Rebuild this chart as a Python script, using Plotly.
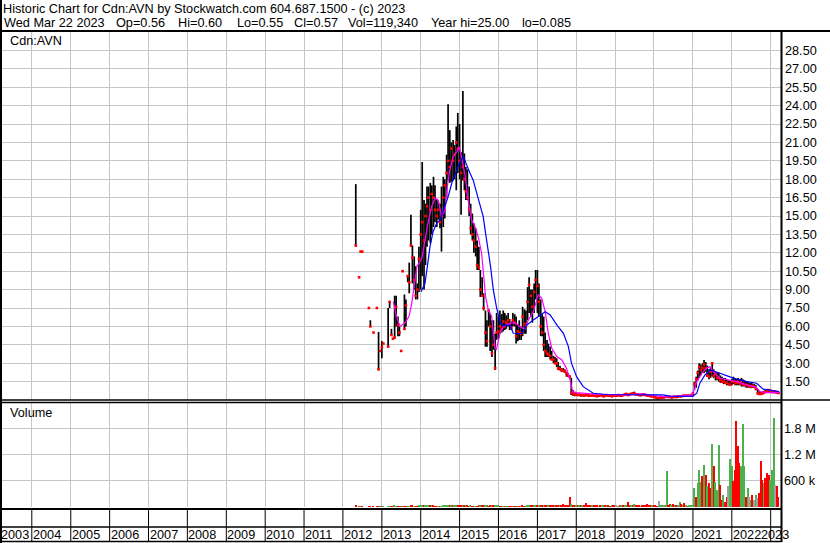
import pandas as pd
import plotly.graph_objects as go

# ---------------- data (semi-monthly bars, May 2012 .. Mar 2023) ----------------
high_2012 = [17.6, None, 10.0, 12.1, 12.1, None, None, None, 7.5, 6.5, None, 5.5, None, 7.5, 5.55, 4.0]
low_2012 = [12.5, None, 10.0, 12.1, 12.1, None, None, None, 7.5, 6.0, None, 5.5, None, 7.5, 2.45, 4.0]
close_2012 = [12.6, None, 10.0, 12.1, 12.1, None, None, None, 7.5, 6.0, None, 5.5, None, 7.5, 2.5, 4.0]

high_2013 = [4.8, 4.6, None, None, 7.5, 8.0, 5.8, 5.0, 8.5, 8.5, 6.8, 6.0, 4.0, 10.5, 8.6, 8.2, 10.1, 11.2, 15.1, 12.6, 11.7, 10.9, 9.5, 12.5]
low_2013 = [3.4, 4.6, None, None, 4.3, 7.5, 5.3, 5.0, 5.0, 6.0, 5.2, 5.2, 4.0, 10.5, 5.7, 6.0, 9.6, 8.7, 12.5, 9.5, 9.0, 8.2, 8.2, 8.8]
close_2013 = [4.3, 4.6, None, None, 4.35, 8.0, 5.3, 5.0, 5.1, 7.6, 6.1, 5.5, 4.0, 10.5, 5.8, 7.7, 10.1, 9.6, 12.6, 11.6, 9.8, 8.5, 9.0, 11.5]

high_2014 = [15.5, 19.4, 16.3, 16.0, 17.4, 17.4, 17.7, 17.5, 18.2, 17.5, 16.4, 16.2, 16.0, 17.4, 18.2, 18.0, 20.0, 24.1, 22.0, 21.0, 21.2, 20.8, 22.3, 23.4]
low_2014 = [9.0, 10.1, 9.0, 11.0, 12.5, 13.0, 12.8, 13.5, 14.1, 14.5, 14.1, 14.7, 14.0, 12.1, 14.1, 14.8, 16.5, 17.9, 17.7, 17.8, 17.9, 18.0, 17.1, 18.5]
close_2014 = [13.5, 14.5, 13.0, 15.0, 15.8, 16.5, 15.5, 16.8, 16.5, 15.5, 15.0, 15.5, 14.5, 15.0, 16.5, 17.5, 18.5, 19.5, 19.0, 20.5, 19.5, 20.0, 21.0, 20.5]

high_2015 = [22.5, 20.2, 25.2, 20.1, 19.0, 18.8, 17.4, 16.0, 15.2, 14.4, 14.0, 13.0, 12.5, 10.6, 10.0, 8.7, 7.3, 6.5, 7.3, 7.1, 6.5, 6.5, 5.4, 7.1]
low_2015 = [18.0, 15.1, 17.9, 17.1, 16.3, 16.3, 15.0, 13.5, 13.0, 12.0, 11.7, 10.6, 10.6, 8.4, 8.4, 7.3, 4.35, 4.35, 6.0, 4.0, 3.5, 4.1, 2.45, 4.9]
close_2015 = [19.5, 18.5, 19.0, 18.0, 17.0, 16.5, 15.5, 14.0, 13.5, 13.0, 12.5, 11.0, 10.8, 9.0, 8.5, 7.5, 5.5, 4.8, 7.3, 6.0, 3.8, 4.5, 2.6, 5.5]

high_2016 = [6.8, 7.3, 7.0, 7.3, 7.1, 6.9, 7.1, 6.6, 6.4, 7.1, 7.0, 6.8, 6.2, 6.5, 6.0, 7.6, 7.4, 7.3, 9.2, 10.0, 9.0, 9.0, 9.5, 10.6]
low_2016 = [5.0, 5.4, 5.5, 5.6, 5.7, 5.8, 6.0, 5.7, 5.7, 6.0, 6.0, 4.6, 4.8, 4.9, 4.9, 5.2, 5.4, 5.4, 6.5, 7.1, 6.8, 6.3, 7.1, 8.2]
close_2016 = [5.6, 6.0, 5.8, 6.4, 6.0, 6.3, 6.5, 6.2, 5.9, 6.5, 6.3, 5.2, 5.6, 5.5, 5.4, 6.8, 6.2, 6.0, 8.0, 9.4, 8.5, 7.6, 8.8, 9.8]

high_2017 = [10.6, 9.5, 8.2, 7.0, 6.8, 5.5, 4.9, 4.6, 4.35, 4.0, 3.6, 3.5, 3.4, 3.1, 2.8, 2.6, 2.6, 2.5, 2.3, 2.2, 2.0, 1.8, 0.82, 0.6]
low_2017 = [7.1, 6.8, 5.2, 5.2, 4.0, 3.5, 3.5, 3.5, 3.3, 3.3, 3.0, 3.0, 2.7, 2.45, 2.45, 2.3, 2.3, 2.2, 1.9, 1.9, 1.8, 0.4, 0.35, 0.3]
close_2017 = [9.3, 8.0, 6.0, 5.5, 4.5, 4.0, 3.8, 3.7, 3.6, 3.3, 3.3, 3.0, 3.0, 2.6, 2.5, 2.45, 2.4, 2.3, 2.2, 2.0, 1.9, 0.6, 0.5, 0.45]

high_2018 = [0.55, 0.5, 0.5, 0.45, 0.5, 0.45, 0.5, 0.45, 0.45, 0.4, 0.45, 0.4, 0.45, 0.4, 0.4, 0.45, 0.4, 0.4, 0.4, 0.45, 0.4, 0.4, 0.4, 0.4]
low_2018 = [0.35, 0.35, 0.35, 0.3, 0.35, 0.3, 0.3, 0.3, 0.3, 0.3, 0.3, 0.3, 0.3, 0.25, 0.3, 0.3, 0.3, 0.25, 0.3, 0.3, 0.3, 0.3, 0.25, 0.3]
close_2018 = [0.45, 0.4, 0.45, 0.35, 0.4, 0.35, 0.45, 0.4, 0.35, 0.35, 0.4, 0.35, 0.35, 0.3, 0.35, 0.4, 0.35, 0.3, 0.35, 0.4, 0.35, 0.35, 0.3, 0.35]

high_2019 = [0.4, 0.4, 0.45, 0.45, 0.4, 0.45, 0.5, 0.55, 0.5, 0.5, 0.55, 0.6, 0.68, 0.55, 0.5, 0.5, 0.45, 0.5, 0.5, 0.45, 0.45, 0.4, 0.4, 0.35]
low_2019 = [0.3, 0.3, 0.3, 0.3, 0.3, 0.3, 0.35, 0.35, 0.35, 0.35, 0.4, 0.4, 0.4, 0.4, 0.35, 0.35, 0.3, 0.35, 0.35, 0.35, 0.3, 0.3, 0.25, 0.25]
close_2019 = [0.35, 0.35, 0.4, 0.35, 0.35, 0.4, 0.45, 0.5, 0.4, 0.45, 0.5, 0.55, 0.5, 0.45, 0.45, 0.4, 0.4, 0.45, 0.45, 0.4, 0.35, 0.35, 0.3, 0.3]

high_2020 = [0.33, 0.3, 0.25, 0.25, 0.25, 0.25, 0.3, 0.3, 0.35, 0.3, 0.3, 0.3, 0.3, 0.3, 0.3, 0.35, 0.35, 0.4, 0.4, 0.4, 0.4, 0.4, 0.4, 0.45]
low_2020 = [0.2, 0.15, 0.1, 0.085, 0.1, 0.15, 0.15, 0.2, 0.2, 0.2, 0.2, 0.15, 0.2, 0.2, 0.2, 0.2, 0.25, 0.25, 0.3, 0.3, 0.3, 0.3, 0.27, 0.3]
close_2020 = [0.25, 0.2, 0.15, 0.15, 0.2, 0.2, 0.2, 0.25, 0.3, 0.25, 0.25, 0.2, 0.25, 0.25, 0.25, 0.3, 0.3, 0.3, 0.35, 0.35, 0.35, 0.35, 0.35, 0.4]

high_2021 = [0.6, 1.5, 1.9, 2.4, 3.0, 2.9, 3.0, 3.26, 3.1, 2.8, 2.5, 2.6, 3.1, 2.5, 2.3, 2.2, 2.2, 2.0, 1.9, 1.8, 1.8, 1.7, 1.6, 1.6]
low_2021 = [0.35, 0.8, 1.0, 1.6, 1.8, 2.0, 2.2, 2.2, 2.3, 1.9, 1.7, 1.8, 1.9, 1.8, 1.6, 1.6, 1.5, 1.4, 1.4, 1.3, 1.3, 1.2, 1.2, 1.2]
close_2021 = [0.55, 1.3, 1.7, 2.2, 2.7, 2.45, 2.6, 2.9, 2.6, 2.0, 1.9, 2.3, 3.0, 2.0, 2.2, 1.8, 1.8, 1.6, 1.5, 1.5, 1.4, 1.4, 1.3, 1.25]

high_2022 = [1.7, 1.9, 1.8, 1.7, 1.8, 1.7, 1.8, 1.7, 1.6, 1.5, 1.5, 1.4, 1.4, 1.35, 1.3, 1.2, 0.9, 0.7, 0.65, 0.7, 0.75, 0.82, 0.82, 0.82]
low_2022 = [1.2, 1.3, 1.2, 1.2, 1.2, 1.2, 1.1, 1.1, 1.1, 1.0, 1.0, 1.0, 0.96, 1.0, 0.96, 0.8, 0.45, 0.4, 0.4, 0.45, 0.5, 0.6, 0.68, 0.68]
close_2022 = [1.5, 1.5, 1.35, 1.4, 1.5, 1.36, 1.5, 1.25, 1.23, 1.2, 1.23, 1.1, 1.1, 1.15, 1.09, 0.9, 0.55, 0.5, 0.5, 0.55, 0.6, 0.75, 0.8, 0.8]

high_2023 = [0.82, 0.8, 0.8, 0.75, 0.7, 0.65]
low_2023 = [0.68, 0.6, 0.55, 0.55, 0.5, 0.5]
close_2023 = [0.75, 0.65, 0.7, 0.65, 0.6, 0.57]

# volume in thousands of shares
vol_2012 = [25, 0, 8, 10, 8, 0, 0, 0, 8, 10, 0, 8, 0, 8, 20, 8]
vol_2013 = [15, 10, 0, 0, 20, 12, 10, 8, 25, 20, 15, 10, 8, 10, 20, 15, 12, 18, 30, 25, 20, 18, 15, 25]
vol_2014 = [40, 35, 30, 30, 25, 30, 25, 30, 25, 20, 20, 18, 20, 22, 25, 30, 30, 40, 35, 30, 30, 28, 35, 30]
vol_2015 = [35, 30, 40, 30, 25, 25, 22, 25, 20, 20, 22, 20, 25, 30, 25, 30, 35, 30, 15, 30, 35, 25, 40, 30]
vol_2016 = [25, 20, 22, 20, 18, 18, 20, 15, 18, 20, 18, 22, 20, 18, 20, 25, 22, 20, 35, 40, 30, 25, 30, 40]
vol_2017 = [35, 30, 30, 25, 30, 35, 30, 25, 25, 30, 40, 35, 40, 50, 45, 55, 60, 50, 45, 50, 235, 80, 40, 30]
vol_2018 = [30, 40, 35, 25, 30, 45, 83, 40, 30, 25, 30, 40, 35, 30, 20, 25, 45, 30, 25, 35, 30, 20, 25, 30]
vol_2019 = [25, 30, 20, 35, 30, 25, 40, 50, 120, 40, 30, 35, 60, 30, 25, 30, 20, 25, 25, 30, 80, 25, 30, 25]
vol_2020 = [25, 30, 20, 140, 30, 25, 40, 30, 815, 30, 70, 30, 70, 25, 30, 50, 108, 70, 30, 85, 40, 20, 40, 30]
vol_2021 = [30, 430, 240, 546, 853, 580, 700, 970, 738, 470, 546, 430, 1450, 930, 580, 390, 1430, 510, 160, 280, 120, 240, 470, 1100]
vol_2022 = [930, 590, 853, 1970, 1390, 1000, 930, 1910, 930, 240, 430, 240, 160, 280, 160, 280, 200, 315, 1060, 620, 546, 660, 790, 740]
vol_2023 = [620, 840, 2030, 510, 470, 240]

# day direction per bar: g = up, r = down, n = unchanged
dir_2012 = "rnrgrnnnrrnrnrrg"
dir_2013 = "rgnnggrrggrrrgrrggrrgrrg"
dir_2014 = "ggrgggrgrrrgrgggggrgrggr"
dir_2015 = "rrgrgrrgrrgrrgrrggrrgrgg"
dir_2016 = "grrgrggrrgrrgrgrrgggrrgg"
dir_2017 = "rgrrgrrgrrrgrrgrrrrrrgrr"
dir_2018 = "grgrgrrrrrgrrrgrggrgrrgr"
dir_2019 = "rngrgrggrrgrgrrrgrrrrrrg"
dir_2020 = "rrrngggggrrgrgrggrgrgrgg"
dir_2021 = "ggrgggrgrgrrgrgggrrgrrng"
dir_2022 = "grrrrrgggrgngrngnrrrgrrr"
dir_2023 = "gggnrr"

# moving averages
ma_fast_dates = ["2013-04-19", "2013-05-19", "2013-06-21", "2013-08-07", "2013-09-13", "2013-10-09", "2013-10-31",
                 "2013-11-25", "2014-01-12", "2014-02-10", "2014-03-04", "2014-04-13", "2014-05-16", "2014-06-14",
                 "2014-07-02", "2014-07-17", "2014-08-19", "2014-09-03", "2014-10-01", "2014-11-03", "2014-12-06",
                 "2014-12-28", "2015-01-19", "2015-02-21", "2015-03-22", "2015-04-24", "2015-05-27", "2015-06-25",
                 "2015-07-27", "2015-08-18", "2015-09-02", "2015-09-28", "2015-10-30", "2015-11-28", "2015-12-13",
                 "2016-01-15", "2016-02-14", "2016-04-19", "2016-06-06", "2016-07-19", "2016-09-05", "2016-10-08",
                 "2016-11-24", "2017-01-08", "2017-02-10", "2017-03-15", "2017-04-13", "2017-05-16", "2017-07-02",
                 "2017-08-19", "2017-10-01", "2017-11-03", "2017-11-28", "2018-01-04", "2018-08-11", "2019-04-15",
                 "2019-09-15", "2019-11-24", "2020-04-15", "2020-09-02", "2020-12-20", "2021-01-12", "2021-02-06",
                 "2021-03-25", "2021-05-08", "2021-06-10", "2021-07-09", "2021-09-13", "2021-11-14", "2022-02-17",
                 "2022-05-19", "2022-08-15", "2022-09-24", "2022-11-24", "2023-03-22"]
ma_fast_vals = [8.0, 6.8, 6.0, 6.3, 6.8, 7.9, 9.24,
                10.87, 11.56, 13.05, 14.13, 15.76, 16.45, 16.3,
                15.63, 14.95, 15.5, 17.12, 18.75, 19.84, 20.25,
                20.65, 19.8, 18.35, 16.3, 14.68, 14.1, 13.3,
                11.96, 10.06, 8.43, 7.34, 6.8, 4.35, 4.08,
                5.44, 5.98, 6.26, 6.3, 5.98, 5.77, 6.53,
                7.2, 8.57, 8.3, 7.2, 5.44, 4.22, 3.54,
                3.27, 2.59, 1.64, 0.68, 0.6, 0.45, 0.42,
                0.5, 0.42, 0.25, 0.33, 0.4, 0.82, 1.5,
                2.18, 2.59, 2.72, 2.31, 1.77, 1.64, 1.5,
                1.23, 1.05, 0.68, 0.6, 0.6]

ma_slow_dates = ["2014-01-04", "2014-02-10", "2014-03-04", "2014-03-29", "2014-04-27", "2014-05-31", "2014-07-02",
                 "2014-07-31", "2014-09-16", "2014-10-19", "2014-11-17", "2015-01-04", "2015-02-06", "2015-03-07",
                 "2015-04-09", "2015-05-08", "2015-06-10", "2015-07-13", "2015-08-11", "2015-09-02", "2015-09-28",
                 "2015-10-19", "2015-11-14", "2015-12-13", "2016-01-15", "2016-02-14", "2016-04-19", "2016-05-19",
                 "2016-08-07", "2016-09-24", "2016-11-24", "2017-01-26", "2017-03-15", "2017-05-01", "2017-07-02",
                 "2017-09-02", "2017-10-19", "2017-11-17", "2018-01-04", "2018-03-07", "2018-06-10", "2018-10-12",
                 "2020-03-25", "2020-05-31", "2020-12-31", "2021-02-06", "2021-03-07", "2021-04-24", "2021-06-10",
                 "2021-09-13", "2022-01-15", "2022-05-19", "2022-08-22", "2022-10-23", "2023-01-26", "2023-03-22"]
ma_slow_vals = [8.83, 9.5, 10.87, 12.5, 13.72, 14.4, 14.68,
                15.35, 16.58, 17.67, 18.35, 19.43, 19.84, 19.16,
                18.48, 17.94, 16.85, 15.9, 14.95, 13.6, 12.23,
                10.87, 8.97, 7.6, 6.39, 6.04, 6.12, 5.44,
                5.42, 6.12, 6.53, 6.94, 7.2, 6.94, 6.12,
                5.44, 4.35, 3.0, 1.9, 1.09, 0.55, 0.45,
                0.42, 0.32, 0.3, 0.55, 1.37, 2.05, 2.45,
                2.18, 1.78, 1.5, 1.37, 0.88, 0.77, 0.69]

price_ticks = [1.5, 3.0, 4.5, 6.0, 7.5, 9.0, 10.5, 12.0, 13.5, 15.0, 16.5, 18.0, 19.5,
               21.0, 22.5, 24.0, 25.5, 27.0, 28.5]
volume_ticks = [600000, 1200000, 1800000]
volume_tick_labels = ["600 k", "1.2 M", "1.8 M"]
year_labels = [str(y) for y in range(2003, 2024)]

title_line1 = "Historic Chart for Cdn:AVN by Stockwatch.com 604.687.1500 - (c) 2023"
title_line2_parts = ["Wed Mar 22 2023", "Op=0.56", "Hi=0.60", "Lo=0.55", "Cl=0.57", "Vol=119,340",
                     "Year hi=25.00", "lo=0.085"]

# ---------------- assemble ----------------
highs = high_2012 + high_2013 + high_2014 + high_2015 + high_2016 + high_2017 + high_2018 + high_2019 + high_2020 + high_2021 + high_2022 + high_2023
lows = low_2012 + low_2013 + low_2014 + low_2015 + low_2016 + low_2017 + low_2018 + low_2019 + low_2020 + low_2021 + low_2022 + low_2023
closes = close_2012 + close_2013 + close_2014 + close_2015 + close_2016 + close_2017 + close_2018 + close_2019 + close_2020 + close_2021 + close_2022 + close_2023
volumes = vol_2012 + vol_2013 + vol_2014 + vol_2015 + vol_2016 + vol_2017 + vol_2018 + vol_2019 + vol_2020 + vol_2021 + vol_2022 + vol_2023
directions = dir_2012 + dir_2013 + dir_2014 + dir_2015 + dir_2016 + dir_2017 + dir_2018 + dir_2019 + dir_2020 + dir_2021 + dir_2022 + dir_2023

dates = pd.date_range("2012-05-01", periods=len(highs), freq="SMS")

W, H = 830, 543
FONT = "Liberation Sans, Arial, sans-serif"
FS = 12.7


def fx(px):
    return px / W


def fy(py):
    return 1 - py / H


bar_x, bar_y = [], []
for d, h, l in zip(dates, highs, lows):
    if h is None:
        continue
    bar_x += [d, d, None]
    bar_y += [l, h, None]

dot_x = [d for d, c in zip(dates, closes) if c is not None]
dot_y = [c for c in closes if c is not None]

color_map = {"g": "#4cb04c", "r": "#ff0000", "n": "#a0a0a0"}
vol_colors = [color_map[c] for c in directions]

fig = go.Figure()
fig.add_trace(go.Scatter(x=bar_x, y=bar_y, mode="lines", line=dict(color="black", width=1.7),
                         xaxis="x", yaxis="y", hoverinfo="skip"))
fig.add_trace(go.Scatter(x=dot_x, y=dot_y, mode="markers",
                         marker=dict(symbol="square", size=2.6, color="#ff0000", line=dict(width=0)),
                         xaxis="x", yaxis="y", hoverinfo="skip"))
fig.add_trace(go.Scatter(x=ma_fast_dates, y=ma_fast_vals, mode="lines", line=dict(color="#ff00ff", width=1.2),
                         xaxis="x", yaxis="y", hoverinfo="skip"))
fig.add_trace(go.Scatter(x=ma_slow_dates, y=ma_slow_vals, mode="lines", line=dict(color="#0000ff", width=1.2),
                         xaxis="x", yaxis="y", hoverinfo="skip"))
fig.add_trace(go.Bar(x=dates, y=[v * 1000 for v in volumes], marker=dict(color=vol_colors, line=dict(width=0)),
                     width=13 * 86400000, xaxis="x2", yaxis="y2", hoverinfo="skip"))

grid = "#c6c6c6"
x_range = ["2003-03-27", "2023-04-08"]
common_x = dict(type="date", domain=[fx(2), fx(781)], range=x_range, tick0="2004-01-01", dtick="M12",
                showgrid=True, gridcolor=grid, gridwidth=1, showticklabels=False, ticks="",
                zeroline=False, showline=False, fixedrange=True)

fig.update_layout(
    width=W, height=H,
    margin=dict(l=0, r=0, t=0, b=0),
    paper_bgcolor="white", plot_bgcolor="white",
    showlegend=False, hovermode=False, bargap=0,
    font=dict(family=FONT, size=FS, color="black"),
    xaxis=dict(anchor="y", **common_x),
    xaxis2=dict(anchor="y2", matches="x", **common_x),
    yaxis=dict(domain=[fy(400), fy(32)], range=[0, 30], side="right", anchor="x",
               tickmode="array", tickvals=price_ticks, ticktext=[f"{v:.2f}" for v in price_ticks],
               showgrid=True, gridcolor=grid, gridwidth=1, zeroline=False, showline=False, ticks="",
               ticklabelstandoff=3,
               tickfont=dict(family=FONT, size=FS, color="black"), fixedrange=True),
    yaxis2=dict(domain=[fy(507), fy(403)], range=[0, 2382000], side="right", anchor="x2",
                tickmode="array", tickvals=volume_ticks, ticktext=volume_tick_labels,
                showgrid=True, gridcolor=grid, gridwidth=1, zeroline=False, showline=False, ticks="",
                ticklabelstandoff=2,
                tickfont=dict(family=FONT, size=FS, color="black"), fixedrange=True),
)

shapes = []


def hline(py, x0, x1, w):
    shapes.append(dict(type="line", xref="paper", yref="paper", x0=fx(x0), x1=fx(x1), y0=fy(py), y1=fy(py),
                       line=dict(color="black", width=w)))


def vline(px, y0, y1, w):
    shapes.append(dict(type="line", xref="paper", yref="paper", x0=fx(px), x1=fx(px), y0=fy(y0), y1=fy(y1),
                       line=dict(color="black", width=w)))


hline(31, 0, W, 2)
hline(400, 0, W, 1.5)
hline(402.5, 0, 781.5, 1.5)
hline(509, 0, 781.5, 2)
hline(527, 0, 781.5, 1.5)
hline(541.5, 0, 781.5, 1.5)
vline(1, 0, H, 2)
vline(781.5, 31, 542, 2)
for lab in year_labels[1:]:
    shapes.append(dict(type="line", xref="x", yref="paper", x0=f"{lab}-01-01", x1=f"{lab}-01-01",
                       y0=fy(541.5), y1=fy(509), line=dict(color="black", width=1)))
fig.update_layout(shapes=shapes)

ann = []


def text(s, px, py, xref="paper", x=None, anchor="left"):
    ann.append(dict(text=s, xref=xref, yref="paper", x=fx(px) if x is None else x, y=fy(py),
                    xanchor=anchor, yanchor="middle", showarrow=False, borderpad=0,
                    font=dict(family=FONT, size=FS, color="black")))


text(title_line1, 2, 8.5)
for part, px in zip(title_line2_parts, [2.5, 115.4, 177, 235.6, 292.7, 346.7, 430, 521.4]):
    text(part, px, 23)
text("Cdn:AVN", 9, 41)
text("Volume", 9, 413)
text(year_labels[0], 0, 534.5)
for lab in year_labels[1:-1]:
    text(lab, 0, 534.5, xref="x", x=f"{lab}-01-01")
text(year_labels[-1], 760, 534.5)
fig.update_layout(annotations=ann)

fig.write_html("out.html", config={"displayModeBar": False},
               post_script="document.body.style.margin='0';document.body.style.overflow='hidden';")
